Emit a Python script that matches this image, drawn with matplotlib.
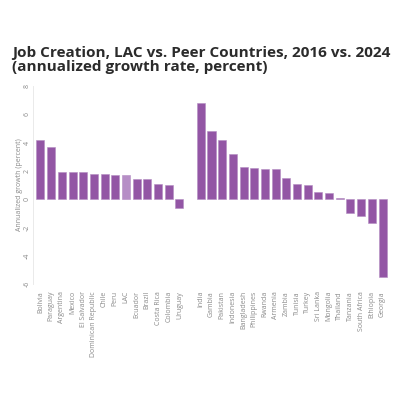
import numpy as np
import matplotlib
matplotlib.use('Agg')
import matplotlib.pyplot as plt

plt.rcParams['font.family'] = ['Open Sans', 'DejaVu Sans']

# LAC countries (left group) and peer countries (right group)
lac_countries = ['Bolivia', 'Paraguay', 'Argentina', 'Mexico', 'El Salvador',
                 'Dominican Republic', 'Chile', 'Peru', 'LAC', 'Ecuador',
                 'Brazil', 'Costa Rica', 'Colombia', 'Uruguay']
lac_growth = [4.2, 3.7, 1.9, 1.9, 1.9, 1.8, 1.8, 1.7, 1.7, 1.4, 1.4, 1.1, 1.0, -0.6]

peer_countries = ['India', 'Gambia', 'Pakistan', 'Indonesia', 'Bangladesh',
                  'Philippines', 'Rwanda', 'Armenia', 'Zambia', 'Tunisia',
                  'Turkey', 'Sri Lanka', 'Mongolia', 'Thailand', 'Tanzania',
                  'South Africa', 'Ethiopia', 'Georgia']
peer_growth = [6.8, 4.8, 4.2, 3.2, 2.3, 2.2, 2.1, 2.1, 1.5, 1.1, 1.0, 0.5, 0.4,
               0.1, -1.0, -1.2, -1.7, -5.5]

y_ticks = [-6, -4, -2, 0, 2, 4, 6, 8]

purple = '#9356a5'
light_purple = '#b68ec6'
text_gray = '#8a8a8a'

# positions: one empty slot between the two groups
x_lac = np.arange(len(lac_countries))
x_peer = np.arange(len(peer_countries)) + len(lac_countries) + 1

fig = plt.figure(figsize=(4, 4), dpi=100)
ax = fig.add_axes([0.0825, 0.29, 0.8925, 0.495])

lac_colors = [light_purple if c == 'LAC' else purple for c in lac_countries]
ax.bar(x_lac, lac_growth, width=0.75, color=lac_colors, edgecolor='#b48cc2', linewidth=0.4)
ax.bar(x_peer, peer_growth, width=0.75, color=purple, edgecolor='#b48cc2', linewidth=0.4)

ax.set_xlim(-0.7, 32.7)
ax.set_ylim(-6, 8)
ax.set_yticks(y_ticks)
ax.set_yticklabels([str(t) for t in y_ticks], rotation=90, va='center')
ax.set_xticks(list(x_lac) + list(x_peer))
ax.set_xticklabels(lac_countries + peer_countries, rotation=90)

ax.tick_params(axis='both', length=0, labelsize=5, labelcolor=text_gray)
ax.tick_params(axis='x', pad=5)
ax.tick_params(axis='y', pad=1.5)

for s in ['top', 'right', 'bottom']:
    ax.spines[s].set_visible(False)
ax.spines['left'].set_color('#e6e6e6')
ax.spines['left'].set_linewidth(0.6)

ax.set_ylabel('Annualized growth (percent)', fontsize=5, color=text_gray, labelpad=1)

fig.text(0.03, 0.815, 'Job Creation, LAC vs. Peer Countries, 2016 vs. 2024\n(annualized growth rate, percent)',
         fontsize=11, fontweight='bold', color='#2b2b2b',
         ha='left', va='bottom', linespacing=1.0)

fig.savefig('out.png', dpi=100, facecolor='white')
